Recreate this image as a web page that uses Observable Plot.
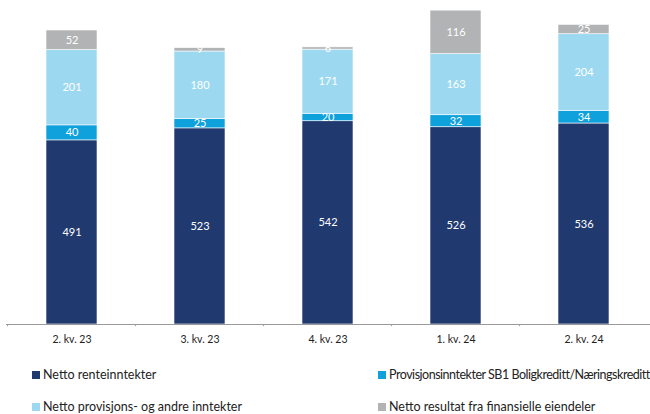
<!DOCTYPE html>
<html>
<head>
<meta charset="utf-8">
<script src="https://cdn.jsdelivr.net/npm/d3@7"></script>
<script src="https://cdn.jsdelivr.net/npm/@observablehq/plot@0.6"></script>
<style>
  html, body { margin: 0; padding: 0; background: #fff; width: 650px; height: 414px; overflow: hidden; }
  #chart svg { display: block; }
  .legend { position: relative; height: 64px; font-family: Lato, "Open Sans", sans-serif; font-size: 12.5px; color: #222; white-space: nowrap; }
  .item { position: absolute; display: flex; align-items: center; }
  .sw { width: 8px; height: 8px; margin-right: 3px; flex: none; }
</style>
</head>
<body>
<div id="chart"></div>
<div class="legend" id="legend"></div>
<script>
const categories = ["2. kv. 23", "3. kv. 23", "4. kv. 23", "1. kv. 24", "2. kv. 24"];
const seriesNames = [
  "Netto renteinntekter",
  "Provisjonsinntekter SB1 Boligkreditt/Næringskreditt",
  "Netto provisjons- og andre inntekter",
  "Netto resultat fra finansielle eiendeler"
];
const nettoRente = [491, 523, 542, 526, 536];
const provisjonSB1 = [40, 25, 20, 32, 34];
const nettoProvisjon = [201, 180, 171, 163, 204];
const nettoResultat = [52, 9, 6, 116, 25];
const colors = ["#203a6f", "#0fa1dc", "#9cd9f1", "#b1b3b4"];

const seriesValues = [nettoRente, provisjonSB1, nettoProvisjon, nettoResultat];
const data = [];
seriesNames.forEach((s, si) => {
  categories.forEach((c, ci) => data.push({ category: c, series: s, value: seriesValues[si][ci] }));
});

const chart = Plot.plot({
  width: 650,
  height: 350,
  marginTop: 0,
  marginLeft: 6,
  marginRight: 0,
  marginBottom: 26,
  style: { fontFamily: "Lato, 'Open Sans', sans-serif", background: "#fff" },
  x: { domain: categories, paddingInner: 0.6, paddingOuter: 0.3, label: null },
  y: { domain: [0, 864], axis: null },
  color: { domain: seriesNames, range: colors },
  marks: [
    Plot.barY(data, Plot.stackY({ x: "category", y: "value", fill: "series", order: seriesNames, stroke: "#ffffff", strokeWidth: 0.6 })),
    Plot.text(data, Plot.stackY({ x: "category", y: "value", z: "series", order: seriesNames, text: d => String(d.value), fill: "white", fontSize: 11 })),
    Plot.ruleY([0], { stroke: "#999", strokeWidth: 1 }),
    Plot.ruleX(categories, { x: d => d, dx: -64.4, y1: 0, y2: -6, stroke: "#999" }),
    Plot.axisX({ tickSize: 0, tickPadding: 11, fontSize: 10.5, fill: "#222", label: null })
  ]
});
document.getElementById("chart").appendChild(chart);

const positions = [[32, 376], [378, 376], [32, 408], [378, 408]];
const legend = document.getElementById("legend");
seriesNames.forEach((s, i) => {
  const it = document.createElement("div");
  it.className = "item";
  it.style.left = positions[i][0] + "px";
  it.style.top = (positions[i][1] - 350 - 9) + "px";
  it.innerHTML = `<span class="sw" style="background:${colors[i]}"></span><span class="lbl">${s}</span>`;
  legend.appendChild(it);
  // fit text inside the window width
  const lbl = it.querySelector(".lbl");
  const avail = 650 - positions[i][0] - 12;
  const w = lbl.getBoundingClientRect().width;
  if (w > avail) lbl.style.letterSpacing = (-(w - avail) / s.length) + "px";
});
</script>
</body>
</html>
